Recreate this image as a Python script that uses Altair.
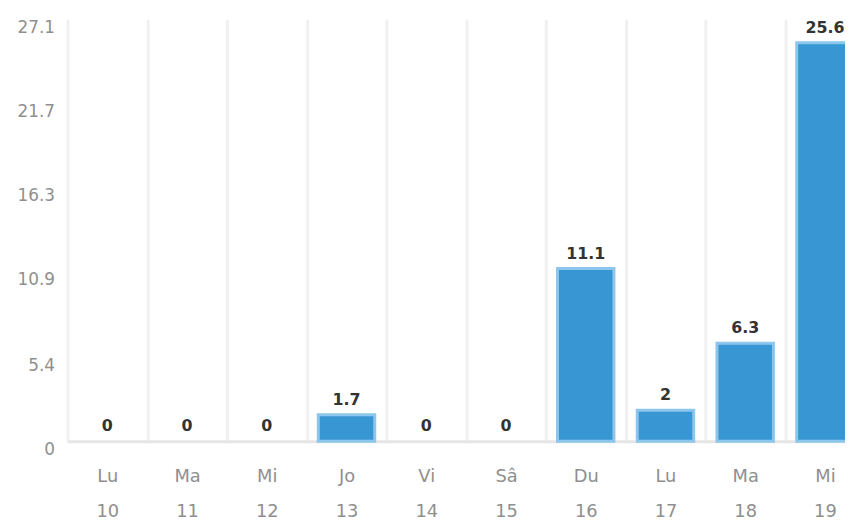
import altair as alt
import pandas as pd

days = ["Lu", "Ma", "Mi", "Jo", "Vi", "Sâ", "Du", "Lu", "Ma", "Mi"]
dates = ["10", "11", "12", "13", "14", "15", "16", "17", "18", "19"]
values = [0, 0, 0, 1.7, 0, 0, 11.1, 2, 6.3, 25.6]
y_ticks = [0, 5.4, 10.9, 16.3, 21.7, 27.1]

keys = [f"{d}|{n}" for d, n in zip(days, dates)]
df = pd.DataFrame({
    "key": keys,
    "v": values,
    "lbl": [("%g" % v) for v in values],
})

x = alt.X(
    "key:N",
    sort=keys,
    scale=alt.Scale(domain=keys, range=[0, 805], paddingInner=0, paddingOuter=0),
    axis=alt.Axis(
        title=None,
        labelAngle=0,
        labelExpr="split(datum.label, '|')",
        labelLineHeight=35,
        labelFont="DejaVu Sans",
        labelFontSize=18,
        labelColor="#8f8f8f",
        labelBaseline="top",
        labelPadding=27,
        ticks=False,
        domain=True,
        domainColor="#e6e6e6",
        domainWidth=3,
        grid=True,
        gridColor="#f1f1f1",
        gridWidth=3,
        tickBand="extent",
    ),
)

y = alt.Y(
    "v:Q",
    scale=alt.Scale(domain=[0, 27.1], nice=False, zero=True),
    axis=alt.Axis(
        title=None,
        values=y_ticks,
        format=".1~f",
        labelFont="DejaVu Sans",
        labelFontSize=17,
        labelColor="#8f8f8f",
        labelBaseline="top",
        labelAlign="right",
        labelPadding=13,
        ticks=False,
        domain=False,
        grid=False,
    ),
)

base = alt.Chart(df)

bars = base.transform_filter("datum.v > 0").mark_bar(
    width=57, fill="#3896d3", stroke="#8cc6ec", strokeWidth=3
).encode(x=x, y=y)

text = base.mark_text(
    baseline="bottom", dy=-7, font="DejaVu Sans", fontSize=16,
    fontWeight="bold", color="#333333"
).encode(x=x, y=y, text="lbl:N")

chart = alt.layer(bars, text).properties(
    width=785,
    height=426,
    padding={"left": 60, "top": 9, "right": 0, "bottom": 82},
    autosize=alt.AutoSizeParams(type="none"),
).configure_view(stroke=None)

chart.save("out.html", embed_options={"renderer": "svg", "actions": False})
